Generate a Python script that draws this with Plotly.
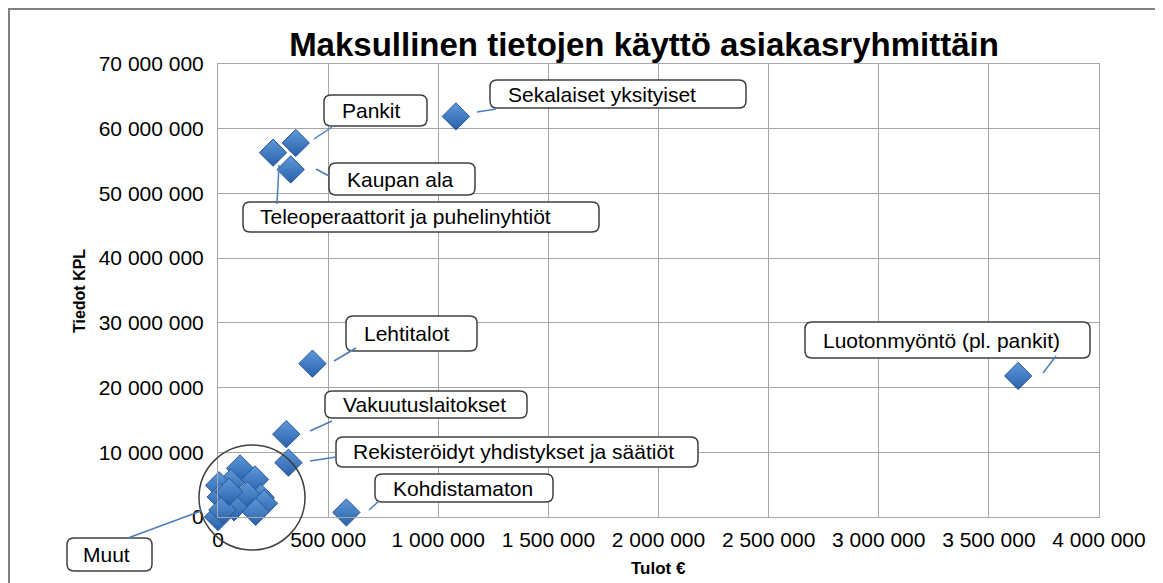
import plotly.graph_objects as go

# ---------------- data ----------------
groups = ["Sekalaiset yksityiset", "Pankit", "Kaupan ala",
          "Teleoperaattorit ja puhelinyhtiöt", "Lehtitalot",
          "Luotonmyöntö (pl. pankit)", "Vakuutuslaitokset",
          "Rekisteröidyt yhdistykset ja säätiöt", "Kohdistamaton"]
tulot = [1080000, 353000, 330000, 250000, 429000, 3633000, 310000, 320000, 583000]
tiedot = [61900000, 57800000, 53700000, 56300000, 23700000, 21800000, 12800000, 8400000, 700000]

# "Muut" cluster near the origin
muut_tulot = [100000, 168000, 58000, 5000, 194000, 133000, 12000, 209000, 73000,
              171000, 0, 20000, 50000]
muut_tiedot = [7500000, 5800000, 5300000, 4900000, 3000000, 3400000, 3100000,
               2100000, 1500000, 800000, 0, 1100000, 3900000]

x_ticks = [0, 500000, 1000000, 1500000, 2000000, 2500000, 3000000, 3500000, 4000000]
y_ticks = [0, 10000000, 20000000, 30000000, 40000000, 50000000, 60000000, 70000000]

title = "Maksullinen tietojen käyttö asiakasryhmittäin"
x_title = "Tulot €"
y_title = "Tiedot KPL"


def fmt(v):
    return f"{v:,}".replace(",", " ")


# ---------------- layout geometry (page pixels) ----------------
OFF = 8                      # page body margin: the figure starts at (8, 8)
PAGE_W, PAGE_H = 1163, 583
W, H = PAGE_W - OFF, PAGE_H - OFF
L, R, T, B = 218, 1099, 64, 517  # plot area edges in page px
PW, PH = R - L, B - T


def px(x):
    return (x - L) / PW


def py(y):
    return (B - y) / PH


def rrect(x0, y0, x1, y1, r=7):
    rx, ry = r / PW, r / PH
    X0, X1 = px(x0), px(x1)
    Yt, Yb = py(y0), py(y1)
    return (f"M {X0+rx},{Yt} L {X1-rx},{Yt} Q {X1},{Yt} {X1},{Yt-ry} "
            f"L {X1},{Yb+ry} Q {X1},{Yb} {X1-rx},{Yb} L {X0+rx},{Yb} "
            f"Q {X0},{Yb} {X0},{Yb+ry} L {X0},{Yt-ry} Q {X0},{Yt} {X0+rx},{Yt} Z")


# label boxes (x0, y0, x1, y1, text-left) and leader lines, page px
boxes = {
    "Sekalaiset yksityiset": (490, 80, 746, 108, 508),
    "Pankit": (324, 95, 427, 126, 342),
    "Kaupan ala": (329, 163, 475, 195, 347),
    "Teleoperaattorit ja puhelinyhtiöt": (243, 202, 599, 232, 260),
    "Lehtitalot": (346, 316, 477, 351, 364),
    "Luotonmyöntö (pl. pankit)": (805, 322, 1090, 358, 823),
    "Vakuutuslaitokset": (325, 391, 527, 418, 343),
    "Rekisteröidyt yhdistykset ja säätiöt": (336, 437, 698, 467, 353),
    "Kohdistamaton": (375, 474, 553, 502, 393),
    "Muut": (67, 538, 152, 571, 83),
}
leaders = {
    "Sekalaiset yksityiset": (477, 112, 496, 109),
    "Pankit": (314, 139, 332, 127),
    "Kaupan ala": (316, 169, 329, 176),
    "Teleoperaattorit ja puhelinyhtiöt": (277, 204, 279, 165),
    "Lehtitalot": (334, 361, 356, 348),
    "Luotonmyöntö (pl. pankit)": (1043, 373, 1056, 356),
    "Vakuutuslaitokset": (310, 431, 332, 421),
    "Rekisteröidyt yhdistykset ja säätiöt": (310, 461, 336, 457),
    "Kohdistamaton": (369, 510, 379, 501),
    "Muut": (128, 538, 201, 511),
}

FONT = "Liberation Sans, Arial, sans-serif"

marker = dict(symbol="diamond", size=21, color="#5e99da",
              gradient=dict(type="vertical", color="#2861aa"),
              line=dict(color="#2a5590", width=1))

fig = go.Figure()
fig.add_trace(go.Scatter(x=muut_tulot, y=muut_tiedot, mode="markers",
                         marker=marker, cliponaxis=False, showlegend=False,
                         name="Muut"))
fig.add_trace(go.Scatter(x=tulot, y=tiedot, mode="markers", text=groups,
                         marker=marker, cliponaxis=False, showlegend=False))

shapes = []
# outer chart border
shapes.append(dict(type="rect", xref="paper", yref="paper",
                   x0=px(9), x1=px(1157.3), y0=py(620), y1=py(8.9),
                   line=dict(color="#7f7f7f", width=2), layer="below"))
# circle around "Muut"
shapes.append(dict(type="circle", xref="paper", yref="paper",
                   x0=px(199), x1=px(305), y0=py(550), y1=py(445),
                   line=dict(color="#404040", width=1.5), layer="above"))
annotations = []
for name, (x0, y0, x1, y1, tx) in boxes.items():
    shapes.append(dict(type="path", xref="paper", yref="paper", path=rrect(x0, y0, x1, y1),
                       fillcolor="white", line=dict(color="#404040", width=1.5), layer="above"))
    annotations.append(dict(xref="paper", yref="paper", x=px(tx), y=py((y0 + y1) / 2),
                            text=name, showarrow=False, xanchor="left", yanchor="middle",
                            borderpad=0, borderwidth=0,
                            font=dict(family=FONT, size=21, color="black")))
for name, (x0, y0, x1, y1) in leaders.items():
    shapes.append(dict(type="line", xref="paper", yref="paper",
                       x0=px(x0), y0=py(y0), x1=px(x1), y1=py(y1),
                       line=dict(color="#4a7ebb", width=1.5), layer="above"))

annotations.append(dict(xref="paper", yref="paper", x=px(79), y=py(291), text=y_title,
                        textangle=-90, showarrow=False, xanchor="center", yanchor="middle",
                        font=dict(family=FONT, size=16, color="black", weight="bold")))
annotations.append(dict(xref="paper", yref="paper", x=px(658), y=py(568), text=x_title,
                        showarrow=False, xanchor="center", yanchor="middle",
                        font=dict(family=FONT, size=17, color="black", weight="bold")))

fig.update_layout(
    width=W, height=H,
    margin=dict(l=L - OFF, r=PAGE_W - R, t=T - OFF, b=PAGE_H - B, autoexpand=False),
    paper_bgcolor="white", plot_bgcolor="white",
    title=dict(text=title, x=(644 - OFF) / W, xanchor="center",
               y=1 - (44 - OFF) / H, yanchor="middle",
               font=dict(family=FONT, size=33, color="black", weight="bold")),
    xaxis=dict(range=[0, 4000000], tickvals=x_ticks, ticktext=[fmt(v) for v in x_ticks],
               showgrid=True, gridcolor="#a6a6a6", gridwidth=1, zeroline=False,
               showline=True, linecolor="#a6a6a6", linewidth=1, mirror=True,
               ticks="", ticklabelstandoff=4,
               tickfont=dict(family=FONT, size=21, color="black")),
    yaxis=dict(range=[0, 70000000], tickvals=y_ticks, ticktext=[fmt(v) for v in y_ticks],
               showgrid=True, gridcolor="#a6a6a6", gridwidth=1, zeroline=False,
               showline=True, linecolor="#a6a6a6", linewidth=1, mirror=True,
               ticks="", ticklabelstandoff=9,
               tickfont=dict(family=FONT, size=21, color="black")),
    shapes=shapes, annotations=annotations,
)

fig.write_html("out.html")
